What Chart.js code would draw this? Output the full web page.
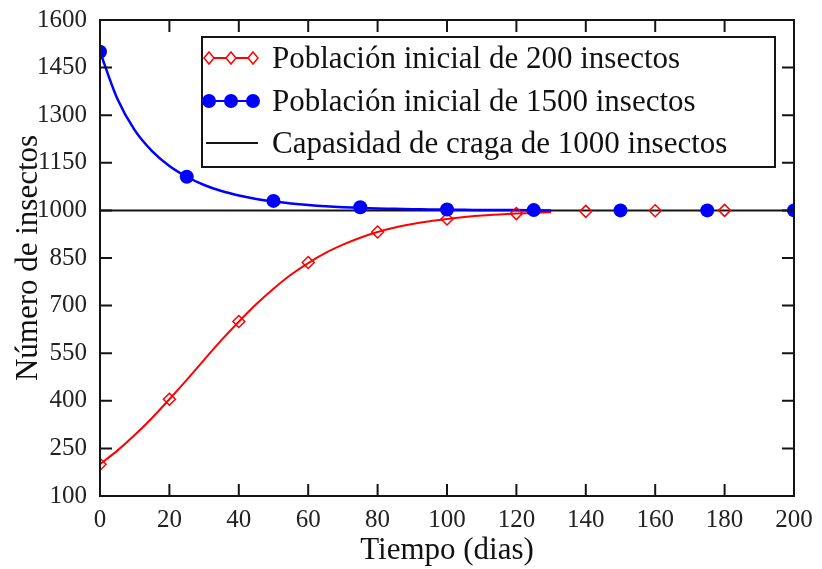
<!DOCTYPE html>
<html>
<head>
<meta charset="utf-8">
<script src="https://cdn.jsdelivr.net/npm/chart.js@4.4.1/dist/chart.umd.min.js"></script>
<style>
html, body { margin: 0; padding: 0; background: #fff; }
#wrap { width: 822px; height: 569px; }
</style>
</head>
<body>
<div id="wrap"><canvas id="chart"></canvas></div>
<script>
// curvas continuas
var curveDays = [0,5,10,15,20,25,30,35,40,45,50,55,60,65,70,75,80,85,90,95,100,105,110,115,120,125,130];
var curve200  = [200,243,292,346,405,466,529,591,649,704,753,797,834,866,892,914,932,946,957,966,973,979,984,987,990,992,994];
var curve1500 = [1500,1352,1253,1187,1140,1106,1080,1061,1047,1036,1028,1022,1017,1013,1010,1008,1006,1005,1004,1003,1002,1002,1001,1001,1001,1000,1000];

// marcadores
var markDays200 = [0,20,40,60,80,100,120,140,160,180];
var mark200     = [200,405,650,836,932,973,990,997,999,1000];
var markDays1500 = [0,25,50,75,100,125,150,175,200];
var mark1500     = [1500,1106,1030,1010,1003,1001,1000,1000,1000];

// capacidad de carga
var capDays = [0,200];
var capValues = [1000,1000];

var xTicks = [0,20,40,60,80,100,120,140,160,180,200];
var yTicks = [100,250,400,550,700,850,1000,1150,1300,1450,1600];

var legendLabels = [
    'Población inicial de 200 insectos',
    'Población inicial de 1500 insectos',
    'Capasidad de craga de 1000 insectos'
];

var RED = 'rgb(255,0,0)';
var BLUE = 'rgb(0,0,255)';
var BLACK = 'rgb(20,20,20)';
var SERIF = '"Liberation Serif", "Times New Roman", serif';

function pts(xs, ys){
    var data = [];
    for(var i = 0; i < xs.length; i++){
        data.push({x: xs[i], y: ys[i]});
    }
    return data;
}

// marco con marcas hacia adentro y leyenda dentro del area
var framePlugin = {
    id: 'frame',
    afterDatasetsDraw: function(chart){
        var ctx = chart.ctx;
        var a = chart.chartArea;
        var xs = chart.scales.x, ys = chart.scales.y;
        var len = 12;
        ctx.save();
        ctx.strokeStyle = BLACK;
        ctx.lineWidth = 2;
        ctx.beginPath();
        for(var v of xTicks){
            var px = xs.getPixelForValue(v);
            ctx.moveTo(px, a.bottom); ctx.lineTo(px, a.bottom - len);
            ctx.moveTo(px, a.top); ctx.lineTo(px, a.top + len);
        }
        for(var w of yTicks){
            var py = ys.getPixelForValue(w);
            ctx.moveTo(a.left, py); ctx.lineTo(a.left + len, py);
            ctx.moveTo(a.right, py); ctx.lineTo(a.right - len, py);
        }
        ctx.stroke();
        ctx.strokeRect(a.left, a.top, a.right - a.left, a.bottom - a.top);

        // leyenda
        var bx = 202, by = 37, bw = 573, bh = 130;
        ctx.fillStyle = '#fff';
        ctx.fillRect(bx, by, bw, bh);
        ctx.strokeRect(bx, by, bw, bh);
        var rows = [58, 101, 143];
        var sx0 = 206, sx1 = 258;
        ctx.font = '31px ' + SERIF;
        ctx.textBaseline = 'middle';
        ctx.textAlign = 'left';
        for(var i = 0; i < 3; i++){
            var y = rows[i];
            ctx.beginPath();
            ctx.moveTo(sx0, y); ctx.lineTo(sx1, y);
            ctx.lineWidth = 2;
            ctx.strokeStyle = i == 0 ? RED : (i == 1 ? BLUE : BLACK);
            ctx.stroke();
            var mx = [209, 231, 253];
            for(var m of mx){
                if(i == 0){
                    ctx.beginPath();
                    ctx.moveTo(m, y - 6); ctx.lineTo(m + 5, y); ctx.lineTo(m, y + 6); ctx.lineTo(m - 5, y); ctx.closePath();
                    ctx.fillStyle = '#fff'; ctx.fill();
                    ctx.lineWidth = 1.5; ctx.strokeStyle = RED; ctx.stroke();
                } else if(i == 1){
                    ctx.beginPath();
                    ctx.arc(m, y, 7, 0, Math.PI * 2);
                    ctx.fillStyle = BLUE; ctx.fill();
                }
            }
            ctx.fillStyle = '#111';
            ctx.fillText(legendLabels[i], 272, y + 2);
        }
        ctx.restore();
    }
};

window.onload = function(){
    var canvas = document.getElementById('chart');
    window.chartInstance = new Chart(canvas.getContext('2d'), {
        type: 'scatter',
        data: {
            datasets: [{
                label: legendLabels[2],
                data: pts(capDays, capValues),
                showLine: true,
                borderColor: BLACK,
                borderWidth: 2,
                pointRadius: 0,
                order: 5
            },{
                label: legendLabels[0] + ' (curva)',
                data: pts(curveDays, curve200),
                showLine: true,
                borderColor: RED,
                borderWidth: 2,
                pointRadius: 0,
                tension: 0.3,
                order: 4
            },{
                label: legendLabels[1] + ' (curva)',
                data: pts(curveDays, curve1500),
                showLine: true,
                borderColor: BLUE,
                borderWidth: 2.5,
                pointRadius: 0,
                tension: 0.3,
                order: 3
            },{
                label: legendLabels[0],
                data: pts(markDays200, mark200),
                showLine: false,
                pointStyle: 'rectRot',
                pointRadius: 6,
                borderColor: RED,
                borderWidth: 1.5,
                backgroundColor: 'rgba(255,255,255,0)',
                order: 2
            },{
                label: legendLabels[1],
                data: pts(markDays1500, mark1500),
                showLine: false,
                pointStyle: 'circle',
                pointRadius: 7,
                borderWidth: 0,
                backgroundColor: BLUE,
                order: 1
            }]
        },
        options: {
            animation: false,
            responsive: true,
            maintainAspectRatio: false,
            layout: { padding: { top: 17, right: 28, left: 0, bottom: 0 } },
            plugins: {
                legend: { display: false },
                tooltip: { enabled: false }
            },
            scales: {
                x: {
                    type: 'linear',
                    min: 0, max: 200,
                    afterBuildTicks: function(s){ s.ticks = xTicks.map(function(v){ return {value: v}; }); },
                    afterFit: function(s){ s.height = 73; },
                    grid: { display: false },
                    border: { display: false },
                    ticks: { color: '#222', font: { family: SERIF, size: 25 }, padding: 1, maxRotation: 0,
                             callback: function(v){ return String(v); } },
                    title: { display: true, text: 'Tiempo (dias)', color: '#111', font: { family: SERIF, size: 31 }, padding: { top: 0, bottom: 0 } }
                },
                y: {
                    type: 'linear',
                    min: 100, max: 1600,
                    afterBuildTicks: function(s){ s.ticks = yTicks.map(function(v){ return {value: v}; }); },
                    afterFit: function(s){ s.width = 100; },
                    grid: { display: false },
                    border: { display: false },
                    ticks: { color: '#222', font: { family: SERIF, size: 25 }, padding: 5,
                             callback: function(v){ return String(v); } },
                    title: { display: true, text: 'Número de insectos', color: '#111', font: { family: SERIF, size: 31 }, padding: { top: 10, bottom: 0 } }
                }
            }
        },
        plugins: [framePlugin]
    });
};
</script>
</body>
</html>
